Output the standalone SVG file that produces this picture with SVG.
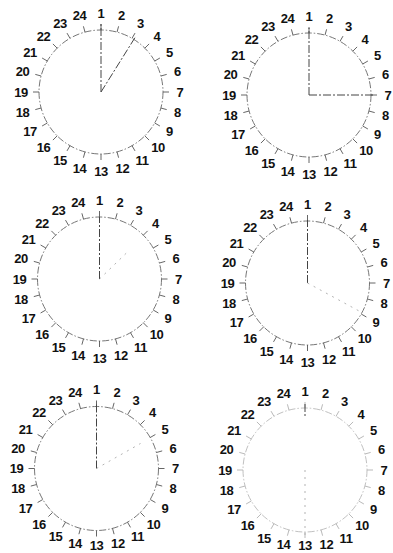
<svg xmlns="http://www.w3.org/2000/svg" xmlns:xlink="http://www.w3.org/1999/xlink" width="393" height="553" viewBox="0 0 393 553">
<style>
.lbl{font-family:"Liberation Sans",Arial,sans-serif;font-weight:bold;font-size:13px;fill:#111;text-anchor:middle;letter-spacing:-0.4px}
.ring{fill:none;stroke:#666;stroke-width:0.9;stroke-dasharray:7 2 1.5 2}
.tick{fill:none;stroke:#555;stroke-width:0.9}
.hand{fill:none;stroke:#444;stroke-width:1;stroke-dasharray:8 2 2 2}
.faint{fill:none;stroke:#aaa;stroke-width:0.9;stroke-dasharray:2 5}
.pale{opacity:0.45}
</style>
<defs>
<g id="dial">
<circle class="ring" cx="0" cy="0" r="62"/>
<path class="tick" d="M0,-62L0,-68M16,-59.9L17.6,-65.7M31,-53.7L34,-58.9M43.8,-43.8L48.1,-48.1M53.7,-31L58.9,-34M59.9,-16L65.7,-17.6M62,0L68,0M59.9,16L65.7,17.6M53.7,31L58.9,34M43.8,43.8L48.1,48.1M31,53.7L34,58.9M16,59.9L17.6,65.7M0,62L0,68M-16,59.9L-17.6,65.7M-31,53.7L-34,58.9M-43.8,43.8L-48.1,48.1M-53.7,31L-58.9,34M-59.9,16L-65.7,17.6M-62,0L-68,0M-59.9,-16L-65.7,-17.6M-53.7,-31L-58.9,-34M-43.8,-43.8L-48.1,-48.1M-31,-53.7L-34,-58.9M-16,-59.9L-17.6,-65.7"/>
</g>
</defs>

<g id="clock1" transform="translate(101,92)">
<use href="#dial"/>
<g class="lbl">
<text x="0" y="-74.5">1</text><text x="20.4" y="-71.8">2</text><text x="39.5" y="-63.9">3</text><text x="55.9" y="-51.4">4</text><text x="68.4" y="-35">5</text><text x="76.3" y="-15.9">6</text><text x="79" y="4.5">7</text><text x="76.3" y="24.9">8</text><text x="68.4" y="44">9</text><text x="57" y="60.4">10</text><text x="41" y="72.9">11</text><text x="21.4" y="80.8">12</text><text x="0" y="83.5">13</text><text x="-21.4" y="80.8">14</text><text x="-41" y="72.9">15</text><text x="-57.5" y="60.4">16</text><text x="-71" y="44">17</text><text x="-78.5" y="24.9">18</text><text x="-80" y="4.5">19</text><text x="-78.5" y="-15.9">20</text><text x="-71" y="-35">21</text><text x="-57.5" y="-51.4">22</text><text x="-41" y="-63.9">23</text><text x="-21.4" y="-71.8">24</text>
</g>
</g>

<g id="clock2" transform="translate(309,95)">
<use href="#dial"/>
<g class="lbl">
<text x="0" y="-74.5">1</text><text x="20.4" y="-71.8">2</text><text x="39.5" y="-63.9">3</text><text x="55.9" y="-51.4">4</text><text x="68.4" y="-35">5</text><text x="76.3" y="-15.9">6</text><text x="79" y="4.5">7</text><text x="76.3" y="24.9">8</text><text x="68.4" y="44">9</text><text x="57" y="60.4">10</text><text x="41" y="72.9">11</text><text x="21.4" y="80.8">12</text><text x="0" y="83.5">13</text><text x="-21.4" y="80.8">14</text><text x="-41" y="72.9">15</text><text x="-57.5" y="60.4">16</text><text x="-71" y="44">17</text><text x="-78.5" y="24.9">18</text><text x="-80" y="4.5">19</text><text x="-78.5" y="-15.9">20</text><text x="-71" y="-35">21</text><text x="-57.5" y="-51.4">22</text><text x="-41" y="-63.9">23</text><text x="-21.4" y="-71.8">24</text>
</g>
</g>

<g id="clock3" transform="translate(99.5,279)">
<use href="#dial"/>
<g class="lbl">
<text x="0" y="-74.5">1</text><text x="20.4" y="-71.8">2</text><text x="39.5" y="-63.9">3</text><text x="55.9" y="-51.4">4</text><text x="68.4" y="-35">5</text><text x="76.3" y="-15.9">6</text><text x="79" y="4.5">7</text><text x="76.3" y="24.9">8</text><text x="68.4" y="44">9</text><text x="57" y="60.4">10</text><text x="41" y="72.9">11</text><text x="21.4" y="80.8">12</text><text x="0" y="83.5">13</text><text x="-21.4" y="80.8">14</text><text x="-41" y="72.9">15</text><text x="-57.5" y="60.4">16</text><text x="-71" y="44">17</text><text x="-78.5" y="24.9">18</text><text x="-80" y="4.5">19</text><text x="-78.5" y="-15.9">20</text><text x="-71" y="-35">21</text><text x="-57.5" y="-51.4">22</text><text x="-41" y="-63.9">23</text><text x="-21.4" y="-71.8">24</text>
</g>
</g>

<g id="clock4" transform="translate(307.5,283)">
<use href="#dial"/>
<g class="lbl">
<text x="0" y="-74.5">1</text><text x="20.4" y="-71.8">2</text><text x="39.5" y="-63.9">3</text><text x="55.9" y="-51.4">4</text><text x="68.4" y="-35">5</text><text x="76.3" y="-15.9">6</text><text x="79" y="4.5">7</text><text x="76.3" y="24.9">8</text><text x="68.4" y="44">9</text><text x="57" y="60.4">10</text><text x="41" y="72.9">11</text><text x="21.4" y="80.8">12</text><text x="0" y="83.5">13</text><text x="-21.4" y="80.8">14</text><text x="-41" y="72.9">15</text><text x="-57.5" y="60.4">16</text><text x="-71" y="44">17</text><text x="-78.5" y="24.9">18</text><text x="-80" y="4.5">19</text><text x="-78.5" y="-15.9">20</text><text x="-71" y="-35">21</text><text x="-57.5" y="-51.4">22</text><text x="-41" y="-63.9">23</text><text x="-21.4" y="-71.8">24</text>
</g>
</g>

<g id="clock5" transform="translate(96.5,468.5)">
<use href="#dial"/>
<g class="lbl">
<text x="0" y="-74.5">1</text><text x="20.4" y="-71.8">2</text><text x="39.5" y="-63.9">3</text><text x="55.9" y="-51.4">4</text><text x="68.4" y="-35">5</text><text x="76.3" y="-15.9">6</text><text x="79" y="4.5">7</text><text x="76.3" y="24.9">8</text><text x="68.4" y="44">9</text><text x="57" y="60.4">10</text><text x="41" y="72.9">11</text><text x="21.4" y="79.8">12</text><text x="0" y="81.5">13</text><text x="-21.4" y="79.8">14</text><text x="-41" y="72.9">15</text><text x="-57.5" y="60.4">16</text><text x="-71" y="44">17</text><text x="-78.5" y="24.9">18</text><text x="-80" y="4.5">19</text><text x="-78.5" y="-15.9">20</text><text x="-71" y="-35">21</text><text x="-57.5" y="-51.4">22</text><text x="-41" y="-63.9">23</text><text x="-21.4" y="-71.8">24</text>
</g>
</g>

<g id="clock6" transform="translate(305,470)">
<use href="#dial" class="pale"/>
<g class="lbl">
<text x="0" y="-74.5">1</text><text x="20.4" y="-71.8">2</text><text x="39.5" y="-63.9">3</text><text x="55.9" y="-51.4">4</text><text x="68.4" y="-35">5</text><text x="76.3" y="-15.9">6</text><text x="79" y="4.5">7</text><text x="76.3" y="24.9">8</text><text x="68.4" y="44">9</text><text x="57" y="60.4">10</text><text x="41" y="72.9">11</text><text x="21.4" y="78.5">12</text><text x="0" y="80">13</text><text x="-21.4" y="78.5">14</text><text x="-41" y="72.9">15</text><text x="-57.5" y="60.4">16</text><text x="-71" y="44">17</text><text x="-78.5" y="24.9">18</text><text x="-80" y="4.5">19</text><text x="-78.5" y="-15.9">20</text><text x="-71" y="-35">21</text><text x="-57.5" y="-51.4">22</text><text x="-41" y="-63.9">23</text><text x="-21.4" y="-71.8">24</text>
</g>
</g>

<g id="hands">
<path class="hand" d="M101,92L101,22M101,92L136,36"/>
<path class="hand" d="M309,95L309,28M309,95L374,95"/>
<path class="hand" d="M99.5,279L99.5,217"/>
<path class="faint" d="M99.5,279L128.5,251"/>
<path class="hand" d="M307.5,283L307.5,220"/>
<path class="faint" d="M307.5,283L360,311.5"/>
<path class="hand" d="M96.5,468.5L96.5,404"/>
<path class="faint" d="M96.5,468.5L140.5,443.5"/>
<path class="hand" d="M305,404L305,417"/>
<path class="faint" d="M305,470L305,537"/>
</g>
</svg>
